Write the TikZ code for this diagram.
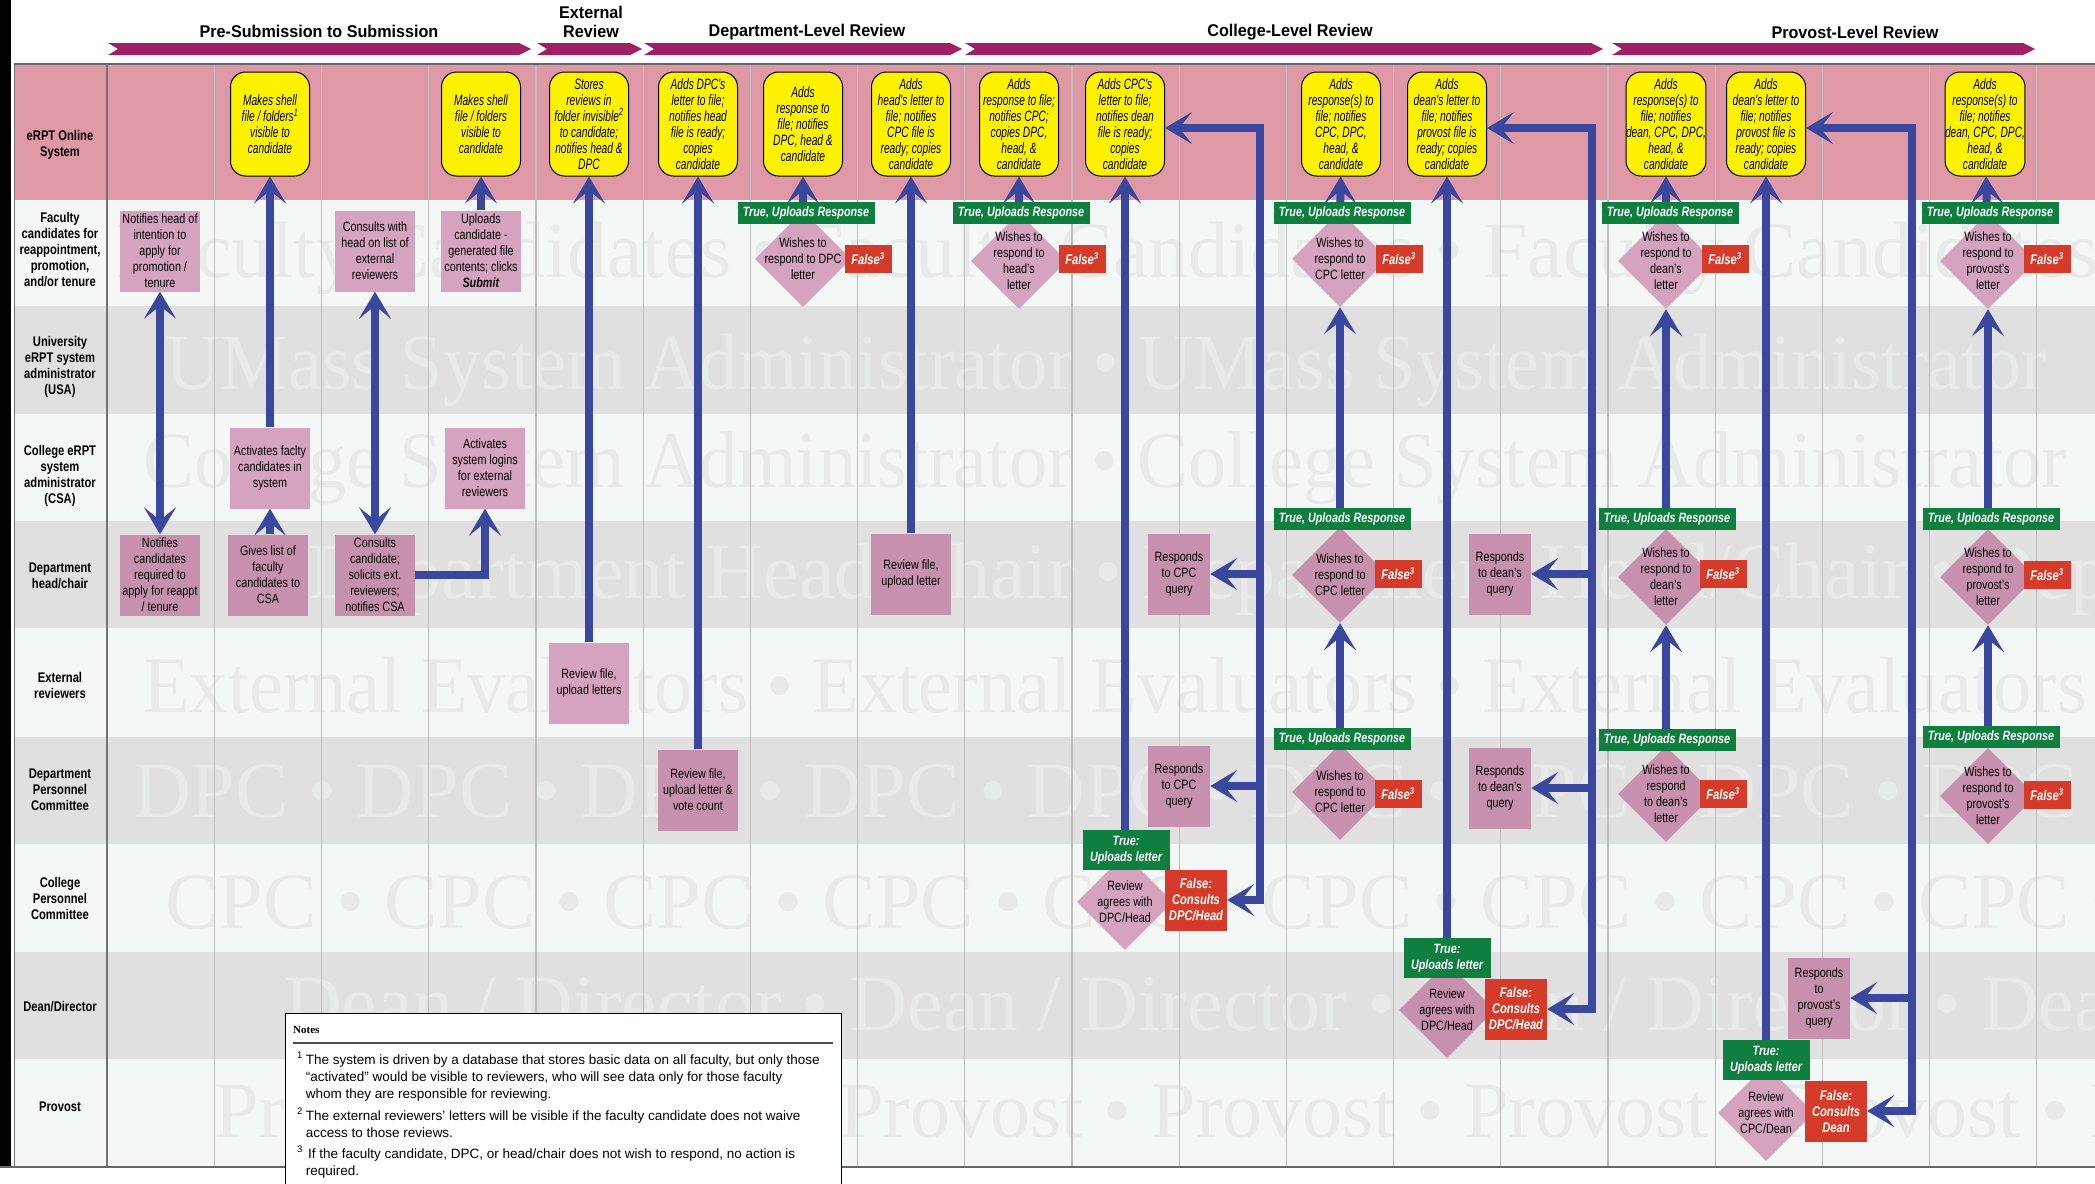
\documentclass[tikz,border=0pt]{standalone}
\usepackage{fontspec}
\setmainfont{Liberation Sans}[FakeStretch=0.8]
\newfontfamily\yfont{Liberation Sans}[FakeStretch=0.68]
\newfontfamily\headfont{Liberation Sans}[FakeStretch=0.95]
\newfontfamily\notefont{Liberation Sans}
\newfontfamily\wmfont{Liberation Serif}
\newfontfamily\wmfontn{Liberation Serif}[FakeStretch=0.955]
\usetikzlibrary{arrows.meta,shapes.geometric,calc}

\definecolor{lanepink}{HTML}{DF98A6}
\definecolor{lanelight}{HTML}{F3F7F5}
\definecolor{lanegray}{HTML}{DFE0DF}
\definecolor{wmgray}{HTML}{E8EAE9}
\definecolor{gridgray}{HTML}{BDBDBD}
\definecolor{sysyellow}{HTML}{FFF200}
\definecolor{actpink}{HTML}{D6A3BF}
\definecolor{actpinkd}{HTML}{C791AE}
\definecolor{okgreen}{HTML}{0E7F3F}
\definecolor{nored}{HTML}{D63B29}
\definecolor{flowblue}{HTML}{3A479E}
\definecolor{phase}{HTML}{9E1F63}

\pgfdeclarelayer{lanes}
\pgfdeclarelayer{flows}
\pgfsetlayers{lanes,flows,main}

\tikzset{
    %Define style for lane names
    lanename/.style={
           align=center,
           font=\bfseries\fontsize{14}{16}\selectfont},
    %Define style for faint lane words
    wm/.style={
           anchor=base west,
           inner sep=0pt,
           text=wmgray,
           font=\wmfont\fontsize{80}{80}\selectfont},
    wmn/.style={wm, font=\wmfontn\fontsize{80}{80}\selectfont},
    %Define style for phase titles
    phasetitle/.style={
           align=center,
           font=\headfont\bfseries\fontsize{17}{19.5}\selectfont},
    %Define style for system boxes
    sysbox/.style={
           rectangle,
           rounded corners=15pt,
           draw=black,
           line width=1pt,
           fill=sysyellow,
           minimum width=79pt,
           minimum height=104pt,
           inner sep=0pt,
           align=center,
           font=\yfont\itshape\fontsize{15}{16}\selectfont},
    %Define style for action boxes
    actbox/.style={
           rectangle,
           fill=actpink,
           minimum width=80pt,
           minimum height=81pt,
           inner sep=0pt,
           align=center,
           font=\fontsize{13.5}{16}\selectfont},
    actboxd/.style={actbox, fill=actpinkd},
    qbox/.style={actboxd, minimum width=62pt},
    %Define style for decisions
    dtext/.style={
           align=center,
           inner sep=0pt,
           font=\fontsize{13.5}{16}\selectfont},
    dia/.style={
           diamond,
           fill=actpink,
           minimum width=96pt,
           minimum height=96pt,
           inner sep=0pt,
           label={[dtext]center:{#1}}},
    diad/.style={dia={#1}, fill=actpinkd},
    %Define style for outcome tags
    yes/.style={
           fill=okgreen,
           text=white,
           minimum width=137pt,
           minimum height=22pt,
           inner sep=0pt,
           font=\bfseries\itshape\fontsize{13.5}{16}\selectfont},
    yes2/.style={yes, minimum width=87pt, minimum height=40pt, align=center},
    no/.style={
           fill=nored,
           text=white,
           minimum width=47pt,
           minimum height=28pt,
           inner sep=0pt,
           font=\bfseries\itshape\fontsize{14}{16}\selectfont},
    no3/.style={no, minimum width=62pt, minimum height=61pt, align=center},
    % Define arrow style
    flow/.style={
           -{Stealth[length=27pt,width=32pt,inset=13pt]},
           line width=8pt,
           draw=flowblue},
    flow2/.style={
           {Stealth[length=27pt,width=32pt,inset=13pt]}-{Stealth[length=27pt,width=32pt,inset=13pt]},
           line width=8pt,
           draw=flowblue}
}

\begin{document}
\begin{tikzpicture}[x=1pt, y=-1pt]
  \useasboundingbox (0,0) rectangle (2095,1183);

  % lanes, faint words and grid
  \begin{pgfonlayer}{lanes}
    \fill[white] (0,0) rectangle (2095,1183);
    \fill[black] (0,0) rectangle (11,1167);
    \fill[lanepink] (14,65) rectangle (2095,200);
    \foreach \top/\bot/\col in {200/306/lanelight, 306/414/lanegray,
        414/521/lanelight, 521/628/lanegray, 628/737/lanelight,
        737/844/lanegray, 844/952/lanelight, 952/1059/lanegray,
        1059/1167/lanelight}
      \fill[\col] (14,\top) rectangle (2095,\bot);
    \begin{scope}
      \clip (108,200) rectangle (2095,1167);
      \node[wm] (wm1) at (116,277) {Faculty Candidates • Faculty Candidates • Faculty Candidates};
      \node[wmn] (wm2) at (165,389) {UMass System Administrator • UMass System Administrator};
      \node[wmn] (wm3) at (143,487) {College System Administrator • College System Administrator};
      \node[wm] (wm4) at (308,598) {Department Head/Chair • Department Head/Chair • Department};
      \node[wmn] (wm5) at (143,712) {External Evaluators • External Evaluators • External Evaluators};
      \node[wm] (wm6) at (133,817) {DPC • DPC • DPC • DPC • DPC • DPC • DPC • DPC • DPC • DPC};
      \node[wm] (wm7) at (165,928) {CPC • CPC • CPC • CPC • CPC • CPC • CPC • CPC • CPC • CPC};
      \node[wm] (wm8) at (284,1030) {Dean / Director • Dean / Director • Dean / Director • Dean};
      \node[wm] (wm9) at (214,1137) {Provost • Provost • Provost • Provost • Provost • Provost • Provost};
    \end{scope}
    \foreach \k in {2,...,19}
      \draw[gridgray, line width=1.2pt] (107.2*\k,65) -- (107.2*\k,1167);
    \draw[black!55, line width=1.6pt] (107,65) -- (107,1167);
    \draw[black!55, line width=1pt] (14,64) -- (14,1167);
    \draw[black!60, line width=1.5pt] (14,64) -- (2095,64);
    \draw[black!60, line width=1.5pt] (0,1167) -- (2095,1167);
    % phase banners
    \foreach \a/\b in {108/531, 537/642, 644/962, 965/1603, 1612/2035}
      \fill[phase] (\a,43) -- (\b-12,43) -- (\b,49) -- (\b-12,55)
        -- (\a,55) -- (\a+10,49) -- cycle;
  \end{pgfonlayer}

  % phase titles
  \node[phasetitle] (ph1) at (319,31) {Pre-Submission to Submission};
  \node[phasetitle] (ph2) at (591,22) {External\\Review};
  \node[phasetitle] (ph3) at (807,32) {Department-Level Review};
  \node[phasetitle] (ph4) at (1290,32) {College-Level Review};
  \node[phasetitle] (ph5) at (1855,32) {Provost-Level Review};

  % lane names
  \node[lanename] (l0) at (60,145) {eRPT Online\\System};
  \node[lanename] (l1) at (60,250) {Faculty\\candidates for\\reappointment,\\promotion,\\and/or tenure};
  \node[lanename] (l2) at (60,367) {University\\eRPT system\\administrator\\(USA)};
  \node[lanename] (l3) at (60,476) {College eRPT\\system\\administrator\\(CSA)};
  \node[lanename] (l4) at (60,576) {Department\\head/chair};
  \node[lanename] (l5) at (60,685) {External\\reviewers};
  \node[lanename] (l6) at (60,790) {Department\\Personnel\\Committee};
  \node[lanename] (l7) at (60,898) {College\\Personnel\\Committee};
  \node[lanename] (l8) at (60,1007) {Dean/Director};
  \node[lanename] (l9) at (60,1107) {Provost};

  % system boxes
  \node[sysbox] (s2) at (270,124) {Makes shell\\file / folders\textsuperscript{1}\\visible to\\candidate};
  \node[sysbox] (s4) at (481,124) {Makes shell\\file / folders\\visible to\\candidate};
  \node[sysbox] (s5) at (589,124) {Stores\\reviews in\\folder invisible\textsuperscript{2}\\to candidate;\\notifies head \&\\DPC};
  \node[sysbox] (s6) at (698,124) {Adds DPC's\\letter to file;\\notifies head\\file is ready;\\copies\\candidate};
  \node[sysbox] (s7) at (803,124) {Adds\\response to\\file; notifies\\DPC, head \&\\candidate};
  \node[sysbox] (s8) at (911,124) {Adds\\head's letter to\\file; notifies\\CPC file is\\ready; copies\\candidate};
  \node[sysbox] (s9) at (1019,124) {Adds\\response to file;\\notifies CPC;\\copies DPC,\\head, \&\\candidate};
  \node[sysbox] (s10) at (1125,124) {Adds CPC's\\letter to file;\\notifies dean\\file is ready;\\copies\\candidate};
  \node[sysbox] (s12) at (1341,124) {Adds\\response(s) to\\file; notifies\\CPC, DPC,\\head, \&\\candidate};
  \node[sysbox] (s13) at (1447,124) {Adds\\dean's letter to\\file; notifies\\provost file is\\ready; copies\\candidate};
  \node[sysbox] (s15) at (1666,124) {Adds\\response(s) to\\file; notifies\\dean, CPC, DPC,\\head, \&\\candidate};
  \node[sysbox] (s16) at (1766,124) {Adds\\dean's letter to\\file; notifies\\provost file is\\ready; copies\\candidate};
  \node[sysbox] (s18) at (1985,124) {Adds\\response(s) to\\file; notifies\\dean, CPC, DPC,\\head, \&\\candidate};

  % action boxes
  \node[actbox] (a1f) at (160,251) {Notifies head of\\intention to\\apply for\\promotion /\\tenure};
  \node[actboxd] (a1d) at (160,575) {Notifies\\candidates\\required to\\apply for reappt\\/ tenure};
  \node[actbox] (a2c) at (270,468) {Activates faclty\\candidates in\\system};
  \node[actboxd] (a2d) at (268,575) {Gives list of\\faculty\\candidates to\\CSA};
  \node[actbox] (a3f) at (375,251) {Consults with\\head on list of\\external\\reviewers};
  \node[actboxd] (a3d) at (375,575) {Consults\\candidate;\\solicits ext.\\reviewers;\\notifies CSA};
  \node[actbox] (a4f) at (481,251) {Uploads\\candidate -\\generated file\\contents; clicks\\\textbf{\textit{Submit}}};
  \node[actbox] (a4c) at (485,468) {Activates\\system logins\\for external\\reviewers};
  \node[actbox] (a5e) at (589,683) {Review file,\\upload letters};
  \node[actboxd] (a6p) at (698,790) {Review file,\\upload letter \&\\vote count};
  \node[actboxd] (a8d) at (911,574) {Review file,\\upload letter};
  \node[qbox] (r10d) at (1179,574) {Responds\\to CPC\\query};
  \node[qbox] (r10p) at (1179,786) {Responds\\to CPC\\query};
  \node[qbox] (r13d) at (1500,574) {Responds\\to dean's\\query};
  \node[qbox] (r13p) at (1500,788) {Responds\\to dean's\\query};
  \node[qbox] (r16n) at (1819,998) {Responds\\to\\provost's\\query};

  % decisions, faculty lane
  \node[dia={Wishes to\\respond to DPC\\letter}] (d7) at (803,259) {};
  \node[dia={Wishes to\\respond to\\head's\\letter}] (d9) at (1019,261) {};
  \node[dia={Wishes to\\respond to\\CPC letter}] (d12f) at (1340,259) {};
  \node[dia={Wishes to\\respond to\\dean's\\letter}] (d15f) at (1666,261) {};
  \node[dia={Wishes to\\respond to\\provost's\\letter}] (d18f) at (1988,261) {};
  % decisions, head/chair lane
  \node[diad={Wishes to\\respond to\\CPC letter}] (d12h) at (1340,575) {};
  \node[diad={Wishes to\\respond to\\dean's\\letter}] (d15h) at (1666,577) {};
  \node[diad={Wishes to\\respond to\\provost's\\letter}] (d18h) at (1988,577) {};
  % decisions, DPC lane
  \node[diad={Wishes to\\respond to\\CPC letter}] (d12p) at (1340,792) {};
  \node[diad={Wishes to\\respond\\to dean's\\letter}] (d15p) at (1666,794) {};
  \node[diad={Wishes to\\respond to\\provost's\\letter}] (d18p) at (1988,796) {};
  % decisions on letters
  \node[dia={Review\\agrees with\\DPC/Head}] (d10c) at (1125,902) {};
  \node[diad={Review\\agrees with\\DPC/Head}] (d13n) at (1447,1010) {};
  \node[dia={Review\\agrees with\\CPC/Dean}] (d16v) at (1766,1113) {};

  % true tags
  \node[yes] (t7) at (806,213) {True, Uploads Response};
  \node[yes] (t9) at (1021,213) {True, Uploads Response};
  \node[yes] (t12f) at (1342,213) {True, Uploads Response};
  \node[yes] (t15f) at (1670,213) {True, Uploads Response};
  \node[yes] (t18f) at (1990,213) {True, Uploads Response};
  \node[yes] (t12h) at (1342,519) {True, Uploads Response};
  \node[yes] (t15h) at (1667,519) {True, Uploads Response};
  \node[yes] (t18h) at (1991,519) {True, Uploads Response};
  \node[yes] (t12p) at (1342,739) {True, Uploads Response};
  \node[yes] (t15p) at (1667,740) {True, Uploads Response};
  \node[yes] (t18p) at (1991,737) {True, Uploads Response};
  \node[yes2] (t10c) at (1126,850) {True:\\Uploads letter};
  \node[yes2] (t13n) at (1447,958) {True:\\Uploads letter};
  \node[yes2] (t16v) at (1766,1060) {True:\\Uploads letter};

  % false tags
  \node[no] (f7) at (868,259) {False\textsuperscript{3}};
  \node[no] (f9) at (1082,259) {False\textsuperscript{3}};
  \node[no] (f12f) at (1399,259) {False\textsuperscript{3}};
  \node[no] (f15f) at (1725,259) {False\textsuperscript{3}};
  \node[no] (f18f) at (2047,259) {False\textsuperscript{3}};
  \node[no] (f12h) at (1398,574) {False\textsuperscript{3}};
  \node[no] (f15h) at (1723,574) {False\textsuperscript{3}};
  \node[no] (f18h) at (2047,575) {False\textsuperscript{3}};
  \node[no] (f12p) at (1398,794) {False\textsuperscript{3}};
  \node[no] (f15p) at (1723,794) {False\textsuperscript{3}};
  \node[no] (f18p) at (2047,795) {False\textsuperscript{3}};
  \node[no3] (f10c) at (1196,900) {False:\\Consults\\DPC/Head};
  \node[no3] (f13n) at (1516,1009) {False:\\Consults\\DPC/Head};
  \node[no3] (f16v) at (1836,1111) {False:\\Consults\\Dean};

  % corners of the query brackets
  \coordinate (k10) at (1260,128);
  \coordinate (k13) at (1592,128);
  \coordinate (k16) at (1912,128);

  % flows
  \begin{pgfonlayer}{flows}
    \draw[flow2] (a1f) -- (a1d);
    \draw[flow] (a2d.north -| a2c.south) -- (a2c.south);
    \draw[flow] (a2c) -- (s2);
    \draw[flow2] (a3f) -- (a3d);
    \draw[flow] (a3d.east) -| (a4c.south);
    \draw[flow] (a4f) -- (s4);
    \draw[flow] (a5e) -- (s5);
    \draw[flow] (a6p) -- (s6);
    \draw[flow] (d7) -- (s7);
    \draw[flow] (a8d) -- (s8);
    \draw[flow] (d9.north -| s9.south) -- (s9.south);
    \draw[flow] (d10c) -- (s10);
    \draw[flow] (d12f) -- (s12);
    \draw[flow] (d12h) -- (d12f);
    \draw[flow] (d12p) -- (d12h);
    \draw[flow] (d13n) -- (s13);
    \draw[flow] (d15f) -- (s15);
    \draw[flow] (d15h) -- (d15f);
    \draw[flow] (d15p) -- (d15h);
    \draw[flow] (d16v) -- (s16);
    \draw[flow] (d18f) -- (s18);
    \draw[flow] (d18h) -- (d18f);
    \draw[flow] (d18p) -- (d18h);
    % query brackets
    \draw[flow2] (f10c.east) -| (k10) -- (k10 -| s10.east);
    \draw[flow] (k10 |- r10d.east) -- (r10d.east);
    \draw[flow] (k10 |- r10p.east) -- (r10p.east);
    \draw[flow2] (f13n.east) -| (k13) -- (k13 -| s13.east);
    \draw[flow] (k13 |- r13d.east) -- (r13d.east);
    \draw[flow] (k13 |- r13p.east) -- (r13p.east);
    \draw[flow2] (f16v.east) -| (k16) -- (k16 -| s16.east);
    \draw[flow] (k16 |- r16n.east) -- (r16n.east);
  \end{pgfonlayer}

  % notes
  \node[draw=black, line width=1.3pt, fill=white, anchor=north west,
        minimum width=556pt, minimum height=190pt, inner sep=0pt] (notes) at (285,1013) {};
  \node[anchor=west, inner sep=0pt, font=\wmfont\bfseries\fontsize{11}{12}\selectfont] (nhead) at (293,1030) {Notes};
  \draw[black!70, line width=1.2pt] (293,1043) -- (833,1043);
  \node[anchor=north west, inner sep=0pt, font=\notefont\fontsize{13.5}{17}\selectfont] (ntext) at (297,1052) {%
    \begin{tabular}{@{}l@{\hspace{3pt}}l@{}}
    \textsuperscript{1} & The system is driven by a database that stores basic data on all faculty, but only those\\
     & “activated” would be visible to reviewers, who will see data only for those faculty\\
     & whom they are responsible for reviewing.\\[5pt]
    \textsuperscript{2} & The external reviewers’ letters will be visible if the faculty candidate does not waive\\
     & access to those reviews.\\[4pt]
    \textsuperscript{3} & \,If the faculty candidate, DPC, or head/chair does not wish to respond, no action is\\
     & required.
    \end{tabular}};
\end{tikzpicture}
\end{document}
